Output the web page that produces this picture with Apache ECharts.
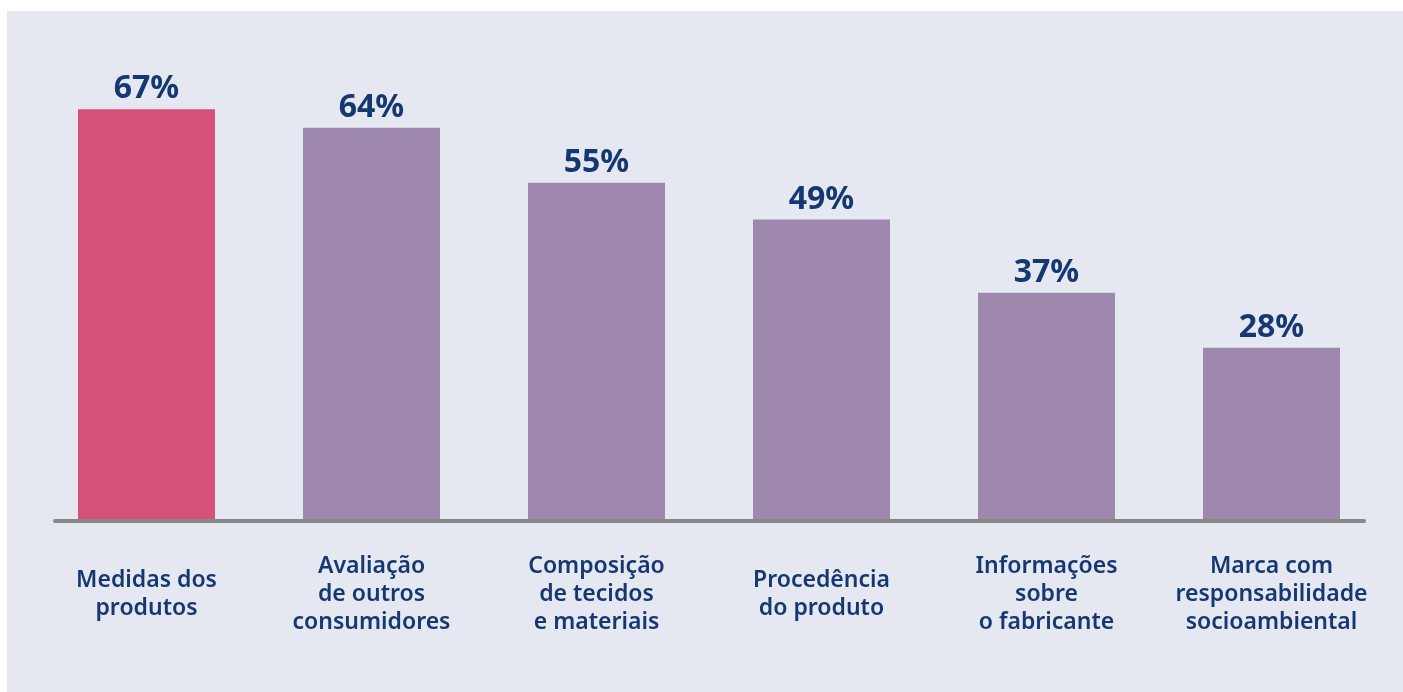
<!DOCTYPE html>
<html>
<head>
<meta charset="utf-8">
<script src="https://cdn.jsdelivr.net/npm/echarts@6/dist/echarts.min.js"></script>
<style>
    html, body { margin: 0; padding: 0; background: #ffffff; }
    .bg { position: absolute; left: 7px; top: 11px; right: 0; bottom: 0; background: #E5E8F0; }
    .chart { position: absolute; left: 0; top: 0; width: 1403px; height: 692px; }
</style>
</head>
<body>
<div class="bg"></div>
<div id="main" class="chart"></div>
<script>
const categories = [
    'Medidas dos\nprodutos',
    'Avaliação\nde outros\nconsumidores',
    'Composição\nde tecidos\ne materiais',
    'Procedência\ndo produto',
    'Informações\nsobre\no fabricante',
    'Marca com\nresponsabilidade\nsocioambiental'
]
const values = [67, 64, 55, 49, 37, 28]
const highlightIndex = 0

const textColor = '#163872'
const colorList = ['#D5517A', '#9E88AE']

const myChart = echarts.init(document.getElementById('main'))
const chartOptions = {
    backgroundColor: 'transparent',
    textStyle: { fontFamily: 'Noto Sans' },
    grid: [
        { left: 34, right: 19, top: 91, bottom: 173 },
        { left: 55, right: 39, top: 91, bottom: 171 }
    ],
    xAxis: [
        {
            type: 'category',
            gridIndex: 0,
            data: categories,
            axisLine: { show: false },
            axisTick: { show: false },
            axisLabel: {
                color: textColor,
                fontFamily: 'Noto Sans',
                fontSize: 23,
                fontWeight: 600,
                lineHeight: 28,
                margin: 75,
                verticalAlign: 'middle',
                interval: 0
            }
        },
        {
            type: 'value',
            gridIndex: 1,
            min: 0,
            max: 1,
            axisLine: { show: true, lineStyle: { color: '#878787', width: 4 } },
            axisTick: { show: false },
            axisLabel: { show: false },
            splitLine: { show: false }
        }
    ],
    yAxis: [
        {
            type: 'value',
            gridIndex: 0,
            min: 0,
            max: 70,
            show: false
        },
        {
            type: 'value',
            gridIndex: 1,
            show: false
        }
    ],
    series: [
        {
            type: 'bar',
            xAxisIndex: 0,
            yAxisIndex: 0,
            barWidth: 137,
            data: values.map((v, i) => ({
                value: v,
                itemStyle: { color: i === highlightIndex ? colorList[0] : colorList[1] }
            })),
            label: {
                show: true,
                position: 'top',
                distance: 4,
                formatter: '{c}%',
                color: textColor,
                fontFamily: 'Noto Sans',
                fontSize: 32,
                fontWeight: 700
            }
        }
    ]
}
myChart.setOption(chartOptions)
window.addEventListener('resize', () => {
    myChart && myChart.resize()
})
</script>
</body>
</html>
